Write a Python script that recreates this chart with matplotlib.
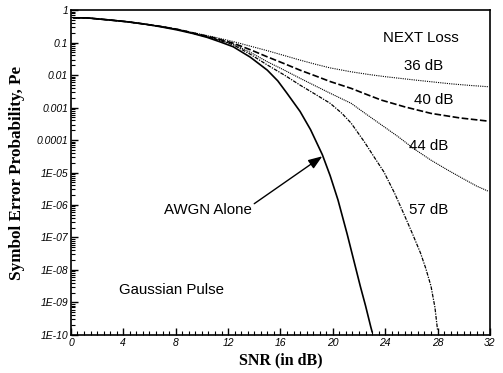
import numpy as np
import matplotlib.pyplot as plt
from matplotlib.ticker import FixedLocator, MultipleLocator, LogLocator, NullFormatter

# values (SNR in dB, log10 of Pe)
awgn_snr = [0.2, 1.2, 2.8, 4.3, 5.6, 6.8, 8.1, 9.3, 10.4, 11.4, 12.4, 13.7, 15.0, 15.8,
            16.5, 17.5, 18.3, 19.2, 19.8, 20.4, 21.1, 21.6, 22.1, 22.5, 22.9, 23.0]
awgn_log = [-0.24, -0.24, -0.30, -0.36, -0.43, -0.51, -0.61, -0.72, -0.84, -0.98, -1.13,
            -1.45, -1.85, -2.18, -2.56, -3.12, -3.68, -4.45, -5.10, -5.85, -6.90,
            -7.70, -8.50, -9.10, -9.75, -9.90]

next36_snr = [0.2, 1.2, 2.8, 4.3, 5.6, 6.8, 8.1, 9.3, 10.9, 12.4, 13.7, 15.0, 16.3, 17.5,
              18.7, 19.8, 21.4, 22.7, 24.0, 25.1, 26.2, 27.6, 29.0, 30.5, 31.9]
next36_log = [-0.24, -0.24, -0.30, -0.36, -0.43, -0.50, -0.59, -0.69, -0.83, -0.97,
              -1.11, -1.25, -1.40, -1.54, -1.67, -1.78, -1.90, -1.98, -2.05, -2.10,
              -2.15, -2.21, -2.27, -2.32, -2.36]

next40_snr = [0.2, 1.2, 2.8, 4.3, 5.6, 6.8, 8.1, 9.3, 10.9, 12.4, 13.7, 15.0, 16.3, 17.5,
              18.7, 19.8, 21.4, 22.6, 23.7, 25.5, 27.5, 29.7, 31.9]
next40_log = [-0.24, -0.24, -0.30, -0.36, -0.43, -0.50, -0.59, -0.70, -0.85, -1.02,
              -1.22, -1.44, -1.65, -1.85, -2.03, -2.20, -2.41, -2.60, -2.77, -2.98,
              -3.18, -3.32, -3.42]

next44_snr = [0.2, 1.2, 2.8, 4.3, 5.6, 6.8, 8.1, 9.3, 10.9, 12.4, 13.7, 15.0, 16.3, 17.5,
              18.7, 19.8, 21.4, 22.4, 23.7, 25.0, 26.2, 27.5, 28.8, 30.0, 31.0, 31.9]
next44_log = [-0.24, -0.24, -0.30, -0.36, -0.43, -0.50, -0.59, -0.71, -0.87, -1.05,
              -1.30, -1.59, -1.85, -2.10, -2.34, -2.56, -2.87, -3.16, -3.53, -3.90,
              -4.27, -4.62, -4.93, -5.20, -5.42, -5.58]

next57_snr = [0.2, 1.2, 2.8, 4.3, 5.6, 6.8, 8.1, 9.3, 10.9, 12.4, 13.7, 15.0, 16.3, 17.5,
              18.7, 19.8, 20.7, 21.4, 22.4, 23.2, 23.9, 24.7, 25.4, 26.1, 26.7, 27.1,
              27.5, 27.8, 28.0]
next57_log = [-0.24, -0.24, -0.30, -0.36, -0.43, -0.50, -0.59, -0.71, -0.88, -1.07,
              -1.36, -1.69, -2.00, -2.31, -2.60, -2.87, -3.18, -3.48, -4.05, -4.55,
              -4.98, -5.62, -6.25, -6.90, -7.48, -7.95, -8.50, -9.15, -9.85]

x_ticks = [0, 4, 8, 12, 16, 20, 24, 28, 32]
y_ticks = [1, 0.1, 0.01, 0.001, 0.0001, 1e-5, 1e-6, 1e-7, 1e-8, 1e-9, 1e-10]
y_tick_labels = ["1", "0.1", "0.01", "0.001", "0.0001", "1E-05", "1E-06",
                 "1E-07", "1E-08", "1E-09", "1E-10"]

fig = plt.figure(figsize=(5.03, 3.73), dpi=100)
ax = fig.add_axes([0.141, 0.102, 0.833, 0.871])

ax.semilogy(awgn_snr, 10.0 ** np.array(awgn_log), color="black", lw=1.2)
ax.semilogy(next36_snr, 10.0 ** np.array(next36_log), color="black", lw=0.8,
            linestyle=(0, (1, 1)))
ax.semilogy(next40_snr, 10.0 ** np.array(next40_log), color="black", lw=1.2,
            linestyle=(0, (4, 1.5)))
ax.semilogy(next44_snr, 10.0 ** np.array(next44_log), color="black", lw=0.8,
            linestyle=(0, (1, 0.8)))
ax.semilogy(next57_snr, 10.0 ** np.array(next57_log), color="black", lw=0.9,
            linestyle=(0, (3, 1, 1, 1)))

ax.set_xlim(0, 32)
ax.set_ylim(1e-10, 1)

ax.xaxis.set_major_locator(FixedLocator(x_ticks))
ax.xaxis.set_minor_locator(MultipleLocator(0.5))
ax.yaxis.set_major_locator(FixedLocator(y_ticks))
ax.yaxis.set_minor_locator(LogLocator(base=10, subs=np.arange(2, 10), numticks=20))
ax.yaxis.set_minor_formatter(NullFormatter())

tick_font = dict(family="Liberation Sans", style="italic", size=7.5)
ax.tick_params(which="major", direction="in", length=5, width=1.0, pad=2,
               top=False, right=False)
ax.tick_params(which="minor", direction="in", length=3, width=0.8,
               top=False, right=False)
ax.set_xticklabels([str(t) for t in x_ticks], **tick_font)
ax.set_yticklabels(y_tick_labels, **tick_font)

for sp in ax.spines.values():
    sp.set_linewidth(1.2)

ax.set_xlabel("SNR (in dB)", family="Liberation Serif", weight="bold",
              size=11.5, labelpad=3)
ax.set_ylabel("Symbol Error Probability, Pe", family="Liberation Serif",
              weight="bold", size=12.3, labelpad=8)

txt = dict(family="Liberation Sans", size=10.8, ha="center", va="center")
ax.text(26.7, 10 ** -0.86, "NEXT Loss", **txt)
ax.text(26.9, 10 ** -1.71, "36 dB", **txt)
ax.text(27.7, 10 ** -2.78, "40 dB", **txt)
ax.text(27.3, 10 ** -4.19, "44 dB", **txt)
ax.text(27.3, 10 ** -6.15, "57 dB", **txt)
ax.text(10.5, 10 ** -6.15, "AWGN Alone", **txt)
ax.text(7.7, 10 ** -8.63, "Gaussian Pulse", **txt)

ax.annotate("", xy=(19.2, 10 ** -4.5), xytext=(14.0, 10 ** -5.96),
            arrowprops=dict(arrowstyle="-|>,head_length=0.6,head_width=0.22",
                            color="black", lw=1.0, mutation_scale=14,
                            shrinkA=0, shrinkB=0))

fig.savefig("out.png", dpi=100)
